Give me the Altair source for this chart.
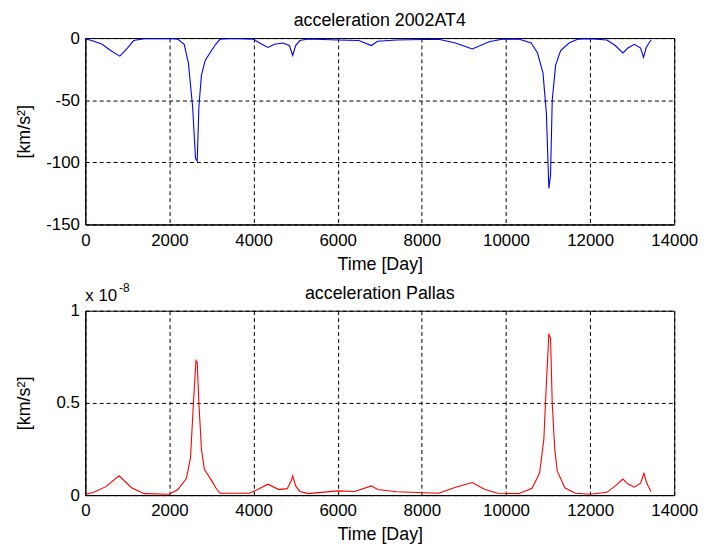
import altair as alt
import pandas as pd

# ---- data: acceleration 2002AT4 (km/s^2) ----
top_day = [0, 150, 400, 600, 820, 1000, 1150, 1400, 2000, 2200, 2350, 2450, 2550, 2620, 2660,
           2700, 2760, 2850, 3000, 3100, 3200, 3500, 4000, 4200, 4340, 4500, 4700, 4850, 4930,
           5000, 5100, 5300, 6000, 6500, 6800, 6950, 7400, 8400, 8800, 9200, 9600, 9900, 10300,
           10600, 10750, 10880, 10960, 11020, 11060, 11100, 11180, 11300, 11500, 11700, 12000,
           12400, 12600, 12780, 12900, 13050, 13200, 13270, 13330, 13400, 13450]
top_val = [-0.5, -2, -5, -10, -14.5, -8, -2, -0.5, -0.3, -1, -5, -20, -55, -97, -99,
           -55, -30, -18, -10, -5, -1, -0.3, -1, -5, -7.5, -5, -4, -6, -14,
           -6, -2, -0.8, -1.5, -2, -6, -2.5, -1.5, -1, -4, -8.8, -3, -1, -0.8,
           -4, -12, -28, -60, -121, -110, -50, -22, -10, -4, -1, -0.5,
           -1.5, -6, -12, -8, -5, -8, -15.5, -8, -4, -1.5]

# ---- data: acceleration Pallas (x 1e-8 km/s^2) ----
bot_day = [0, 200, 490, 800, 1100, 1400, 2000, 2200, 2400, 2500, 2570, 2630, 2660, 2700, 2760,
           2830, 3000, 3100, 3200, 3900, 4100, 4340, 4600, 4800, 4900, 4930, 5000, 5100, 5300,
           6000, 6400, 6800, 6950, 7400, 8400, 8800, 9200, 9500, 9800, 10300, 10620, 10800,
           10900, 10960, 11020, 11060, 11100, 11160, 11220, 11400, 11650, 12000, 12400, 12600,
           12780, 12900, 13050, 13200, 13280, 13340, 13400, 13450]
bot_val = [0.005, 0.015, 0.046, 0.105, 0.04, 0.008, 0.005, 0.03, 0.09, 0.2, 0.5, 0.73, 0.72, 0.5, 0.25,
           0.14, 0.08, 0.04, 0.01, 0.01, 0.03, 0.059, 0.03, 0.035, 0.08, 0.105, 0.05, 0.02, 0.008,
           0.023, 0.02, 0.05, 0.03, 0.018, 0.01, 0.043, 0.068, 0.03, 0.01, 0.008, 0.037, 0.12,
           0.3, 0.6, 0.875, 0.85, 0.5, 0.25, 0.13, 0.04, 0.01, 0.005, 0.015, 0.05,
           0.087, 0.06, 0.043, 0.065, 0.118, 0.07, 0.04, 0.02]

x_ticks = [0, 2000, 4000, 6000, 8000, 10000, 12000, 14000]
top_ticks = [-150, -100, -50, 0]
bot_ticks = [0, 0.5, 1]
titles = ["acceleration 2002AT4", "acceleration Pallas"]

FONT = "Liberation Sans"
W = 594
H1 = 188
H2 = 186

top_df = pd.DataFrame({"day": top_day, "acc": top_val})
bot_df = pd.DataFrame({"day": bot_day, "acc": bot_val})


def xaxis():
    return alt.Axis(values=x_ticks, title="Time [Day]", titleX=W / 2, titleY=45,
                    titleBaseline="alphabetic", titleAlign="center", labelPadding=8,
                    labelExpr="'' + datum.value")


def yaxis(vals, h):
    return alt.Axis(values=vals, title="[km/s\u00b2]", titleX=-52, titleY=h / 2,
                    titleBaseline="bottom", titleAlign="center", titleAngle=270,
                    labelExpr="'' + datum.value", labelPadding=6)


def title_text(text):
    return alt.Chart(pd.DataFrame({"t": [text]})).mark_text(
        font=FONT, fontSize=18, align="center", baseline="alphabetic", color="black"
    ).encode(text="t:N", x=alt.value(W / 2), y=alt.value(-12))


top_line = alt.Chart(top_df).mark_line(color="#0000ff", strokeWidth=1.1).encode(
    x=alt.X("day:Q", scale=alt.Scale(domain=[0, 14000], nice=False), axis=xaxis()),
    y=alt.Y("acc:Q", scale=alt.Scale(domain=[-150, 0], nice=False), axis=yaxis(top_ticks, H1)),
)
top = alt.layer(top_line, title_text(titles[0])).properties(width=W, height=H1)

bot_line = alt.Chart(bot_df).mark_line(color="#ff0000", strokeWidth=1.1).encode(
    x=alt.X("day:Q", scale=alt.Scale(domain=[0, 14000], nice=False), axis=xaxis()),
    y=alt.Y("acc:Q", scale=alt.Scale(domain=[0, 1], nice=False), axis=yaxis(bot_ticks, H2)),
)

exp_base = alt.Chart(pd.DataFrame({"t": ["x 10"]})).mark_text(
    font=FONT, fontSize=17, align="left", baseline="alphabetic", color="black"
).encode(text="t:N", x=alt.value(0), y=alt.value(-10))

exp_sup = alt.Chart(pd.DataFrame({"t": ["-8"]})).mark_text(
    font=FONT, fontSize=12, align="left", baseline="alphabetic", color="black"
).encode(text="t:N", x=alt.value(34), y=alt.value(-19))

bot = alt.layer(bot_line, exp_base, exp_sup, title_text(titles[1])).properties(
    width=W, height=H2)

chart = alt.vconcat(top, bot, spacing=87, bounds="flush").properties(
    padding={"left": 7, "top": 1, "right": 0, "bottom": 0},
    background="white",
).configure_view(
    stroke="black", strokeWidth=1
).configure_axis(
    grid=True, gridColor="black", gridDash=[4, 3], gridOpacity=1, gridWidth=1,
    domainColor="black", domainWidth=1, ticks=False,
    labelFont=FONT, labelFontSize=17, labelColor="black",
    labelFlush=False, labelOverlap=False,
    titleFont=FONT, titleFontSize=18, titleFontWeight="normal", titleColor="black",
)

chart.save("out.html", embed_options={"renderer": "svg", "actions": False})
